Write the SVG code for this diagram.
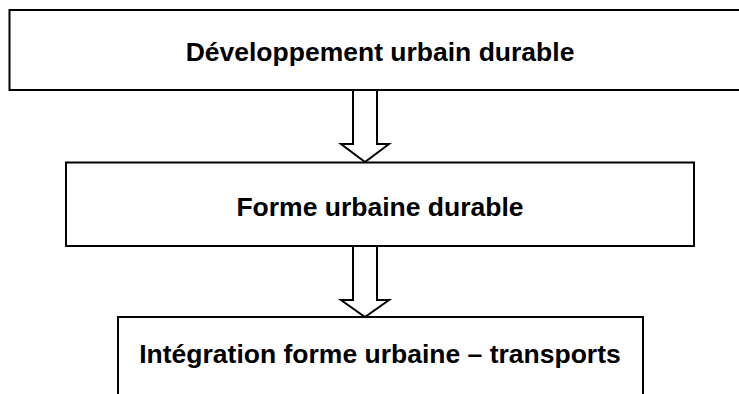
<svg xmlns="http://www.w3.org/2000/svg" width="739" height="394" viewBox="0 0 739 394">
<style>
.box{fill:#fff;stroke:#000;stroke-width:2}
.lbl{font-family:"Liberation Sans",Arial,sans-serif;font-weight:bold;font-size:26.5px;fill:#000;text-anchor:middle}
.arr{fill:#fff;stroke:#000;stroke-width:2;stroke-linejoin:miter}
</style>
<rect width="739" height="394" fill="#fff"/>
<g id="connectors">
<path class="arr" d="M353,90 V144 H341 L365,162 L389,144 H377 V90"/>
<path class="arr" d="M353,246 V300 H341 L365,317 L389,300 H377 V246"/>
</g>
<g id="n1">
<rect class="box" x="9.5" y="10" width="740" height="80"/>
<text class="lbl" x="380" y="61">Développement urbain durable</text>
</g>
<g id="n2">
<rect class="box" x="66" y="162.5" width="628" height="83.5"/>
<text class="lbl" x="380" y="216">Forme urbaine durable</text>
</g>
<g id="n3">
<rect class="box" x="118" y="317" width="525" height="100"/>
<text class="lbl" x="380" y="363">Intégration forme urbaine – transports</text>
</g>
</svg>
